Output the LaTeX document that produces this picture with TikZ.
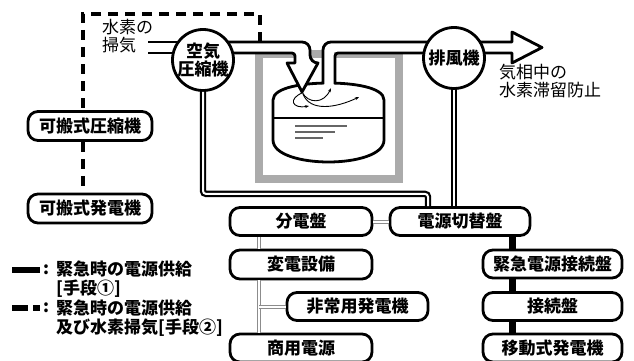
\documentclass[tikz,border=0pt]{standalone}
\usepackage{fontspec}
\setmainfont{Noto Sans CJK JP}
\usetikzlibrary{arrows.meta}

\tikzset{
  box/.style={draw, line width=2.8, rounded corners=10, fill=white,
    minimum height=28, inner sep=0, font=\bfseries\fontsize{17}{18}\selectfont},
  fanbox/.style={draw, circle, line width=2.8, fill=white, minimum size=61,
    inner sep=0, align=center, font=\bfseries\fontsize{17}{16.5}\selectfont},
  note/.style={align=left, inner sep=0, font=\fontsize{17}{17.5}\selectfont},
  keytext/.style={note, font=\bfseries\fontsize{17}{19}\selectfont},
  pipe/.style={line width=2.8, line join=round},
  cable/.style={double=white, double distance=2, line width=2.2},
  mains/.style={draw=black!45, double=white, double distance=2, line width=1},
  emline/.style={line width=7},
  purge/.style={line width=3.8, dash pattern=on 10 off 7},
  swirl/.style={line width=0.9, -{Stealth[length=4,width=3]}},
}

\begin{document}
\begin{tikzpicture}[x=1pt,y=-1pt]
  \clip (0,0) rectangle (634,361);

  % reactor building and vessel
  \draw [black!33, line width=8] (259,54) rectangle (399,179);
  \filldraw [pipe, fill=white] (273,140) -- (273,100)
    .. controls (273,87) and (305,83) .. (328.5,83)
    .. controls (352,83) and (384,87) .. (384,100) -- (384,140)
    .. controls (384,155) and (355,162) .. (328.5,162)
    .. controls (302,162) and (273,155) .. (273,140) -- cycle;
  \draw [line width=1.2] (273,118) -- (384,118);
  \draw [black!60, line width=1.4] (295,126) -- (347,126);
  \draw [black!60, line width=1.4] (295,132) -- (335,132);
  \draw [black!60, line width=1.4] (295,138) -- (323,138);
  \draw [swirl] (302,93) .. controls (288,99) and (292,109) .. (309,106);
  \draw [swirl] (302,92) .. controls (308,104) and (324,104) .. (331,88);
  \draw [swirl] (303,94) .. controls (310,112) and (336,108) .. (359,97);

  % exhaust line out of the vessel
  \fill [white] (324,88) -- (324,43) -- (454,43) -- (454,52) -- (334,52) -- (334,88) -- cycle;
  \draw [pipe] (323,84) [rounded corners=8] -- (323,42) -- (454,42);
  \draw [pipe] (454,53) [rounded corners=3] -- (335,53) -- (335,84);
  \filldraw [pipe, fill=white] (454,42) -- (512,42) -- (512,32) -- (542,47.5)
    -- (512,63) -- (512,53) -- (454,53);

  % air line into the vessel
  \filldraw [pipe, fill=white] (203,42) [rounded corners=8] -- (310,42)
    -- (310,63) [sharp corners] -- (318,63) -- (302,92) -- (287,63) -- (295,63)
    [rounded corners=3] -- (295,53) -- (203,53) [sharp corners] -- cycle;
  \draw [pipe] (148,42) -- (185,42);
  \draw [pipe] (148,53) -- (185,53);

  \node [fanbox] (comp) at (203,60) {空気\\圧縮機};
  \node [fanbox] (fan) at (454,58) {排風機};

  \node [note, anchor=west] (purgetxt) at (102,36) {水素の\\掃気};
  \node [note, anchor=west] (gastxt) at (499,81) {気相中の\\水素滞留防止};

  % power boxes
  \node [box, minimum width=124, minimum height=29] (pcomp) at (90,126) {可搬式圧縮機};
  \node [box, minimum width=124, minimum height=29] (pgen) at (90,208.5) {可搬式発電機};
  \node [box, minimum width=142] (dist) at (301,221.5) {分電盤};
  \node [box, minimum width=140] (sw) at (460,221.5) {電源切替盤};
  \node [box, minimum width=142, minimum height=29] (trans) at (301,264.5) {変電設備};
  \node [box, minimum width=141] (egen) at (357.5,306.5) {非常用発電機};
  \node [box, minimum width=142] (grid) at (301,348) {商用電源};
  \node [box, minimum width=139] (emc) at (552.5,264) {緊急電源接続盤};
  \node [box, minimum width=139] (jbox) at (552.5,306.5) {接続盤};
  \node [box, minimum width=139] (mob) at (552.5,348) {移動式発電機};

  \coordinate (mx) at (259,0);
  \coordinate (emx) at (512,0);

  % hydrogen purge line
  \draw [purge] (260,42) -- (260,14) -- (83,14) -- ([xshift=-7]pcomp.north);
  \draw [purge] ([xshift=-7]pcomp.south) -- ([xshift=-7]pgen.north);

  % supply cables
  \draw [cable, rounded corners=3] (comp.south) -- ++(0,102) -| ([xshift=-32]sw.north);
  \draw [cable] (fan.south) -- (fan.south |- sw.north);
  \draw [mains] (dist.east) -- (sw.west);
  \draw [mains] (dist.south -| mx) -- (trans.north -| mx);
  \draw [mains] (trans.south -| mx) -- (grid.north -| mx);
  \draw [mains] (egen.west -| mx) -- (egen.west);
  \foreach \a/\b in {sw/emc, emc/jbox, jbox/mob}
    \draw [emline] (\a.south -| emx) -- (\b.north -| emx);

  % legend
  \draw [line width=6] (12,270) -- (40,270);
  \draw [line width=5.5, dash pattern=on 16 off 5] (12,308) -- (40,308);
  \node [keytext] (col1) at (46,270) {:};
  \node [keytext] (col2) at (46,308) {:};
  \node [keytext, anchor=north west] (key1) at (56,261) {緊急時の電源供給\\{}[手段①]};
  \node [keytext, anchor=north west] (key2) at (56,300) {緊急時の電源供給\\及び水素掃気[手段②]};
\end{tikzpicture}
\end{document}
